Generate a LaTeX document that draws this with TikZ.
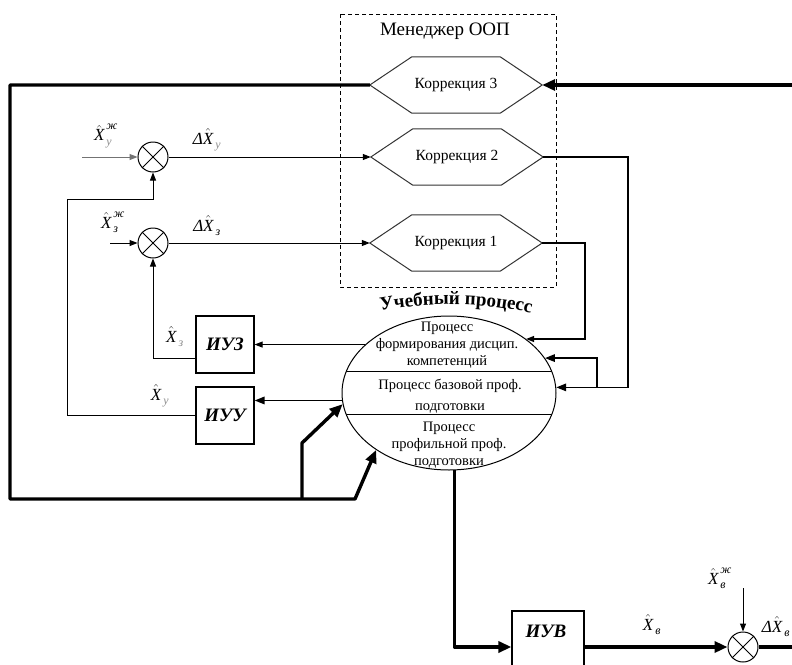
\documentclass[tikz,border=0pt]{standalone}
\usepackage{fontspec}
\setmainfont{Liberation Serif}
\usepackage{amsmath}
\usetikzlibrary{arrows.meta,shapes.geometric,decorations.text,calc}

% estimate symbol: X with hat, subscript and optional superscript
\newcommand\estX[3][black]{$\hat{\text{\itshape X}}_{\,\text{\itshape\color{#1}#2}}^{\,\text{\itshape #3}}$}
\newcommand\dX[2][black]{\textit{Δ}\estX[#1]{#2}{}}
% hexagonal outline around a named node
\newcommand\hexa[1]{\draw[hexline] (#1.west) -- ([xshift=42pt]#1.north west)
  -- ([xshift=-42pt]#1.north east) -- (#1.east) -- ([xshift=-42pt]#1.south east)
  -- ([xshift=42pt]#1.south west) -- cycle;}

\begin{document}
\begin{tikzpicture}[x=1pt,y=-1pt,
  thinln/.style={line width=1pt},
  medln/.style={line width=1.7pt},
  thickln/.style={line width=3.4pt,line join=round},
  tipS/.style={-{Triangle[length=8pt,width=6pt]}},
  tipM/.style={-{Triangle[length=10pt,width=7.5pt]}},
  tipL/.style={-{Triangle[length=13pt,width=11pt]}},
  hexbox/.style={minimum width=172pt,minimum height=56pt,inner sep=0pt,
    font=\fontsize{15.5}{17}\selectfont},
  hexline/.style={draw=black!80,line width=1pt},
  sumnode/.style={circle,draw,line width=1pt,minimum size=30pt,inner sep=0pt},
  blk/.style={draw,line width=1.2pt,minimum width=58pt,minimum height=57pt,
    inner sep=0pt,font=\fontsize{19}{21}\selectfont\bfseries\itshape},
  ptext/.style={align=center,inner sep=0pt,font=\fontsize{14.5}{17}\selectfont},
  lbl/.style={inner sep=0pt,font=\fontsize{17}{19}\selectfont}
]
\useasboundingbox (0,0) rectangle (792,664);
\fill[white] (0,0) rectangle (792,664);

% --- manager frame with the three corrections
\draw[dashed,dash pattern=on 4pt off 3pt,line width=0.9pt] (340,14) rectangle (556,287);
\node[font=\fontsize{19}{21}\selectfont] (mgr) at (445,31) {Менеджер ООП};

\node[hexbox] (k3) at (456,85) {Коррекция 3};
\node[hexbox] (k2) at (457,157) {Коррекция 2};
\node[hexbox] (k1) at (456,243) {Коррекция 1};
\hexa{k3}\hexa{k2}\hexa{k1}

% --- summing junctions
\node[sumnode] (s1) at (153,157) {};
\node[sumnode] (s2) at (153,243) {};
\node[sumnode] (s3) at (743,647) {};
\foreach \s in {s1,s2,s3}{
  \draw[thinln] (\s.45) -- (\s.225) (\s.135) -- (\s.315);
}

% --- measuring blocks
\node[blk] (iuz) at (225,344.5) {ИУЗ};
\node[blk] (iuu) at (225,415.5) {ИУУ};
\node[draw,line width=1.2pt,minimum width=72pt,minimum height=72pt] (iuv) at (548,647) {};
\node[inner sep=0pt,font=\fontsize{19}{21}\selectfont\bfseries\itshape] (iuvt) at (546,631) {ИУВ};

% --- learning process
\node[ellipse,draw,line width=1pt,minimum width=214pt,minimum height=154pt,inner sep=0pt] (up) at (449,393) {};
\begin{scope}
  \clip (449,393) ellipse [x radius=107pt,y radius=77pt];
  \draw[thinln] (330,371) -- (570,371);
  \draw[thinln] (330,414) -- (570,414);
\end{scope}
\node[ptext] (p1) at (447,345) {Процесс\\формирования дисцип.\\компетенций};
\node[ptext,font=\fontsize{14.5}{21}\selectfont] (p2) at (450,396) {Процесс базовой проф.\\подготовки};
\node[ptext] (p3) at (449,445) {Процесс\\профильной проф.\\подготовки};
\path[decorate,decoration={text along path,text align=center,
  text={|\fontsize{19}{21}\selectfont\bfseries|Учебный процесс}}]
  (370,313) .. controls (425,301) and (485,301) .. (542,316);

% --- inputs of the junctions
\coordinate (in1) at (82,157);
\coordinate (in2) at (110,243);
\coordinate (in3) at (743,588);
\draw[thinln,black!55,tipS] (in1) -- (s1.west);
\draw[thinln,tipS] (in2) -- (s2.west);
\draw[thinln,tipS] (in3) -- (s3.north);

% --- deviations into the corrections
\draw[thinln,tipS] (s1.east) -- (k2.west);
\draw[thinln,tipS] (s2.east) -- (k1.west);

% --- outputs of the corrections into the process
\coordinate (k1r) at (585,243);
\coordinate (k2r) at (628,157);
\coordinate (k2b) at (597,387);
\draw[line width=1.2pt,tipS] (k1.east) -- (k1r) |- (up.35.4);
\draw[medln,tipM] (k2.east) -- (k2r) |- (up.3.2);
\draw[medln,tipM] (k2b) |- (up.20.8);

% --- process to measuring blocks
\draw[thinln,tipS] (up.150.3) -- (up.150.3 -| iuz.east);
\draw[medln,tipM] (up.184.8) -- (up.184.8 -| iuu.east);

% --- feedback to the junctions
\coordinate (fb1) at (67,199);
\draw[thinln,tipS] (iuu.west) -| (fb1) -| (s1.south);
\draw[thinln,tipS] ([yshift=-14pt]iuz.west) -| (s2.south);

% --- correction 3 loop
\coordinate (rin) at (792,85);
\coordinate (lt) at (10,85);
\coordinate (lb) at (10,499);
\coordinate (fork) at (302,499);
\coordinate (bend) at (355,499);
\coordinate (kink) at (302,443);
\draw[thickln,tipL] (rin) -- (k3.east);
\draw[thickln,tipL] (k3.west) -- (lt) -- (lb) -- (bend) -- (up.218.4);
\draw[thickln,tipL] (fork) -- (kink) -- (up.186.5);

% --- graduates output
\coordinate (rout) at (792,647);
\draw[thickln,tipL] (up.274.5) |- (iuv.west);
\draw[thickln,tipL] (iuv.east) -- (s3.west);
\draw[thickln] (s3.east) -- (rout);

% --- signal labels
\node[lbl] (l1) at (106,136) {\estX[black!45]{у}{ж}};
\node[lbl] (l2) at (207,140) {\dX[black!45]{у}};
\node[lbl] (l3) at (113,222) {\estX{з}{ж}};
\node[lbl] (l4) at (207,226) {\dX{з}};
\node[lbl] (l5) at (175,337) {\estX[black!45]{з}{}};
\node[lbl] (l6) at (160,396) {\estX[black!45]{у}{}};
\node[lbl] (l7) at (652,625) {\estX{в}{}};
\node[lbl] (l8) at (720,578) {\estX{в}{ж}};
\node[lbl] (l9) at (776,627) {\dX{в}};
\end{tikzpicture}
\end{document}
